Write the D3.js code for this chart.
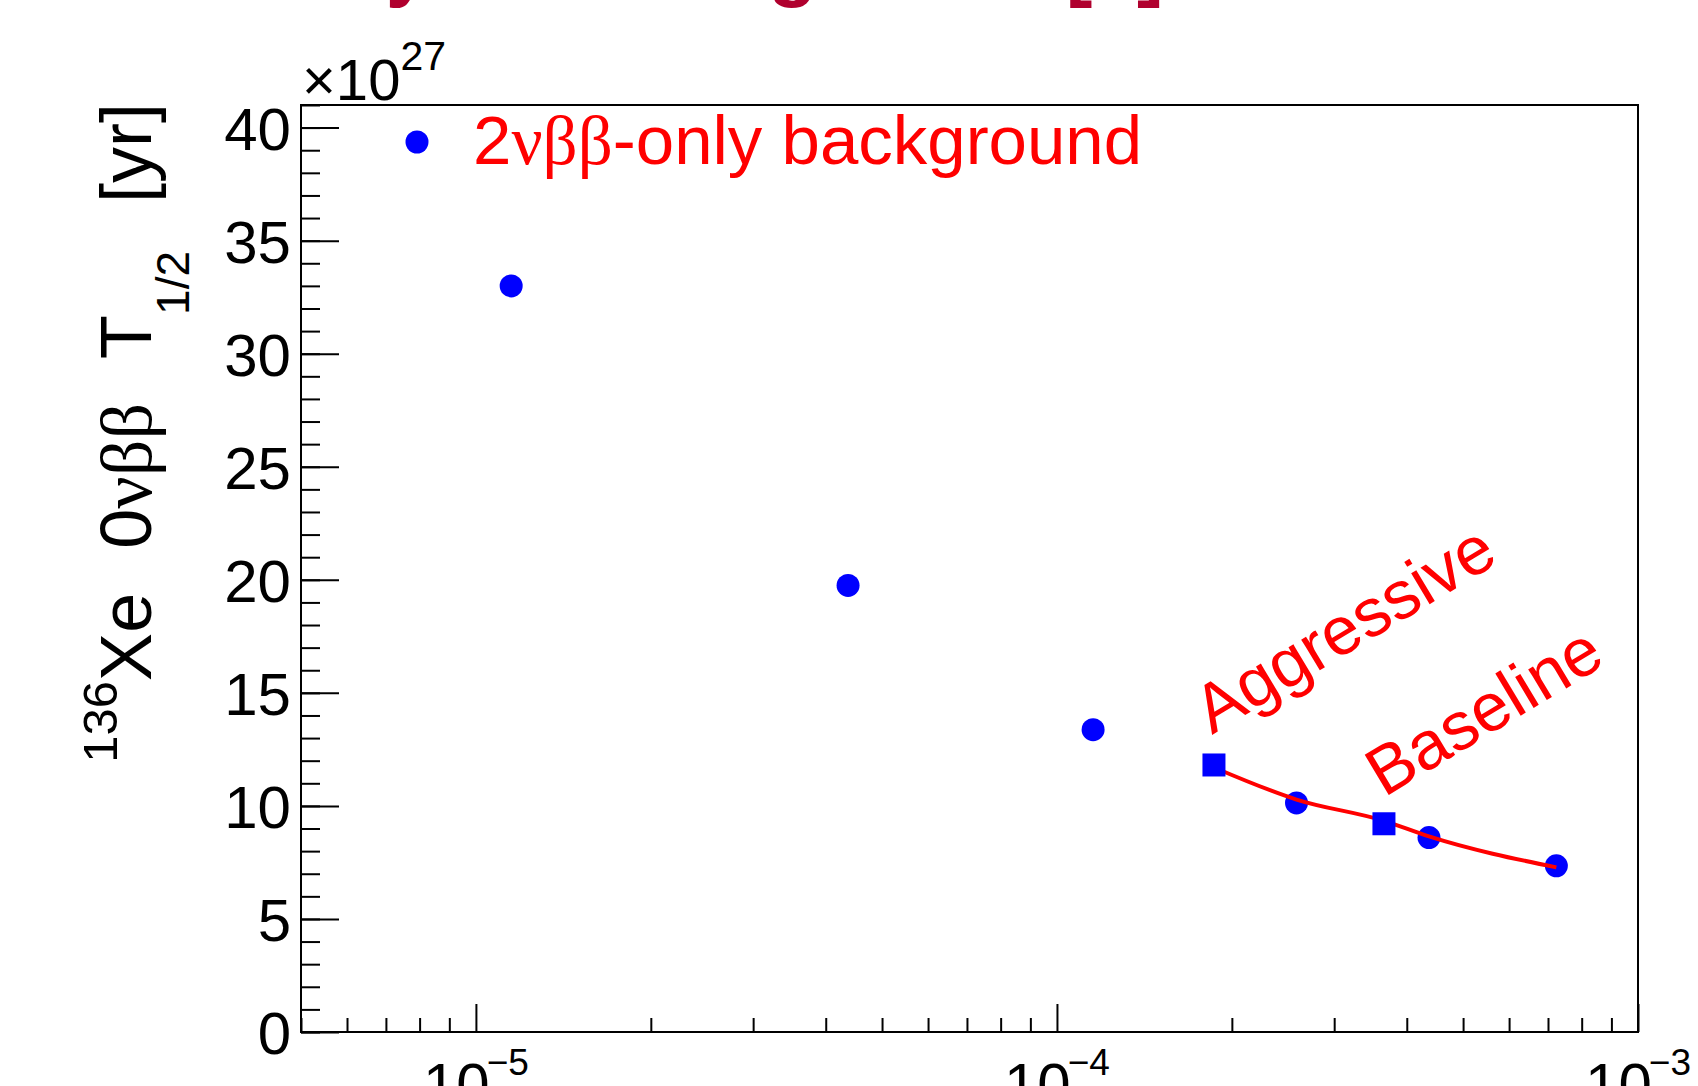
<!DOCTYPE html>
<html>
<head>
<meta charset="utf-8">
<script src="https://cdn.jsdelivr.net/npm/d3@7"></script>
<style>
body { margin: 0; background: #fff; }
svg { display: block; font-family: "Liberation Sans", Arial, sans-serif; }
</style>
</head>
<body>
<svg width="1698" height="1086"></svg>
<script>
// 2vbb-only background points: background index vs 0vbb half-life (x1e27 yr)
var bkgX = [1.15e-5, 4.37e-5, 1.154e-4, 2.584e-4, 4.368e-4, 7.236e-4];
var bkgY = [33.0, 19.75, 13.37, 10.13, 8.60, 7.35];

// design points (squares)
var designNames = ["Aggressive", "Baseline"];
var designX = [1.863e-4, 3.654e-4];
var designY = [11.81, 9.21];

// red sensitivity curve
var curveX = [1.863e-4, 2.584e-4, 3.654e-4, 4.368e-4, 7.236e-4];
var curveY = [11.70, 10.28, 9.34, 8.65, 7.28];

var yMajor = [0, 5, 10, 15, 20, 25, 30, 35, 40];
var xDecades = [-5, -4, -3];

var svg = d3.select("svg"),
    padL = 301, padR = 1638, padT = 105, padB = 1032;

var x = d3.scaleLog().domain([5e-6, 1e-3]).range([padL, padR]);
var y = d3.scaleLinear().domain([0, 41]).range([padB, padT]);

// cut-off slide title above the plot
svg.append("text")
    .attr("x", 30).attr("y", -9)
    .style("font-size", "80px").style("font-weight", "bold")
    .style("fill", "#b0002e")
    .text("Sensitivity vs. background [1]");

// y axis ticks (inward)
var yMinor = d3.range(0, 42, 1);
svg.append("g")
    .attr("transform", "translate(" + padL + ",0)")
    .call(d3.axisLeft(y).tickValues(yMinor).tickSize(-19).tickFormat("").tickSizeOuter(0))
    .call(function(g) { g.select(".domain").remove(); })
    .selectAll("line").attr("stroke-width", 2);

svg.append("g")
    .attr("transform", "translate(" + padL + ",0)")
    .call(d3.axisLeft(y).tickValues(yMajor).tickSize(-38).tickPadding(10).tickSizeOuter(0))
    .call(function(g) { g.select(".domain").remove(); })
    .call(function(g) {
      g.selectAll("line").attr("stroke-width", 2);
      g.selectAll("text")
        .attr("font-family", "Liberation Sans, Arial, sans-serif")
        .style("font-size", "60px")
        .attr("dy", "0.36em");
    });

// x axis ticks (inward)
var xMinor = x.ticks().filter(function(d) {
  return Math.abs(Math.log10(d) - Math.round(Math.log10(d))) > 1e-6;
});
svg.append("g")
    .attr("transform", "translate(0," + padB + ")")
    .call(d3.axisBottom(x).tickValues(xMinor).tickSize(-14).tickFormat("").tickSizeOuter(0))
    .call(function(g) { g.select(".domain").remove(); })
    .selectAll("line").attr("stroke-width", 2);

svg.append("g")
    .attr("transform", "translate(0," + padB + ")")
    .call(d3.axisBottom(x).tickValues(xDecades.map(function(d) { return Math.pow(10, d); }))
      .tickSize(-28).tickFormat("").tickSizeOuter(0))
    .call(function(g) { g.select(".domain").remove(); })
    .selectAll("line").attr("stroke-width", 2);

var xLab = svg.append("g").selectAll("text")
  .data(xDecades)
  .enter().append("text")
    .attr("x", function(d) { return x(Math.pow(10, d)); })
    .attr("y", padB + 73)
    .attr("text-anchor", "middle")
    .style("font-size", "60px");
xLab.append("tspan").text("10");
xLab.append("tspan")
    .attr("dy", -30)
    .attr("dx", -3)
    .style("font-size", "37px")
    .text(function(d) { return "\u2212" + Math.abs(d); });

// frame
svg.append("rect")
    .attr("x", padL).attr("y", padT)
    .attr("width", padR - padL).attr("height", padB - padT)
    .attr("fill", "none").attr("stroke", "#000").attr("stroke-width", 2);

// x10^27 multiplier
var mult = svg.append("text")
    .attr("x", 302).attr("y", 100)
    .style("font-size", "58px");
mult.append("tspan").text("\u00d710");
mult.append("tspan").attr("dy", -30).style("font-size", "41px").text("27");

// y axis title
var yt = svg.append("text")
    .attr("transform", "translate(151," + (padT - 2) + ") rotate(-90)")
    .attr("text-anchor", "end")
    .style("font-size", "72px");
yt.append("tspan").attr("dy", -34).style("font-size", "49px").text("136");
yt.append("tspan").attr("dy", 34).text("Xe");
yt.append("tspan").attr("dx", 44).text("0");
yt.append("tspan").style("font-family", "Liberation Serif, serif").text("\u03bd\u03b2\u03b2");
yt.append("tspan").attr("dx", 44).text("T");
yt.append("tspan").attr("dy", 38).style("font-size", "46px").text("1/2");
yt.append("tspan").attr("dy", -38).attr("dx", 48).text("[yr]");

// data: circles, curve, squares
var g = svg.append("g");

g.selectAll("circle.bkg")
  .data(d3.range(bkgX.length))
  .enter().append("circle")
    .attr("class", "bkg")
    .attr("cx", function(i) { return x(bkgX[i]); })
    .attr("cy", function(i) { return y(bkgY[i]); })
    .attr("r", 11.5)
    .attr("fill", "#0000ff");

var line = d3.line()
    .x(function(i) { return x(curveX[i]); })
    .y(function(i) { return y(curveY[i]); })
    .curve(d3.curveMonotoneX);

g.append("path")
    .datum(d3.range(curveX.length))
    .attr("d", line)
    .attr("fill", "none")
    .attr("stroke", "#ff0000")
    .attr("stroke-width", 4);

g.selectAll("rect.design")
  .data(d3.range(designX.length))
  .enter().append("rect")
    .attr("class", "design")
    .attr("x", function(i) { return x(designX[i]) - 11.5; })
    .attr("y", function(i) { return y(designY[i]) - 11.5; })
    .attr("width", 23).attr("height", 23)
    .attr("fill", "#0000ff");

g.selectAll("text.design")
  .data(d3.range(designX.length))
  .enter().append("text")
    .attr("class", "design")
    .attr("transform", function(i) {
      return "translate(" + (x(designX[i]) - 2 + 2 * i) + "," + (y(designY[i]) - 30 + 4 * i) + ") rotate(-31)";
    })
    .style("font-size", "68px")
    .style("fill", "#ff0000")
    .text(function(i) { return designNames[i]; });

// legend
svg.append("circle")
    .attr("cx", 417).attr("cy", 142).attr("r", 11.5)
    .attr("fill", "#0000ff");
var leg = svg.append("text")
    .attr("x", 473).attr("y", 164)
    .style("font-size", "69px")
    .style("fill", "#ff0000");
leg.append("tspan").text("2");
leg.append("tspan").style("font-family", "Liberation Serif, serif").text("\u03bd\u03b2\u03b2");
leg.append("tspan").text("-only background");
</script>
</body>
</html>
